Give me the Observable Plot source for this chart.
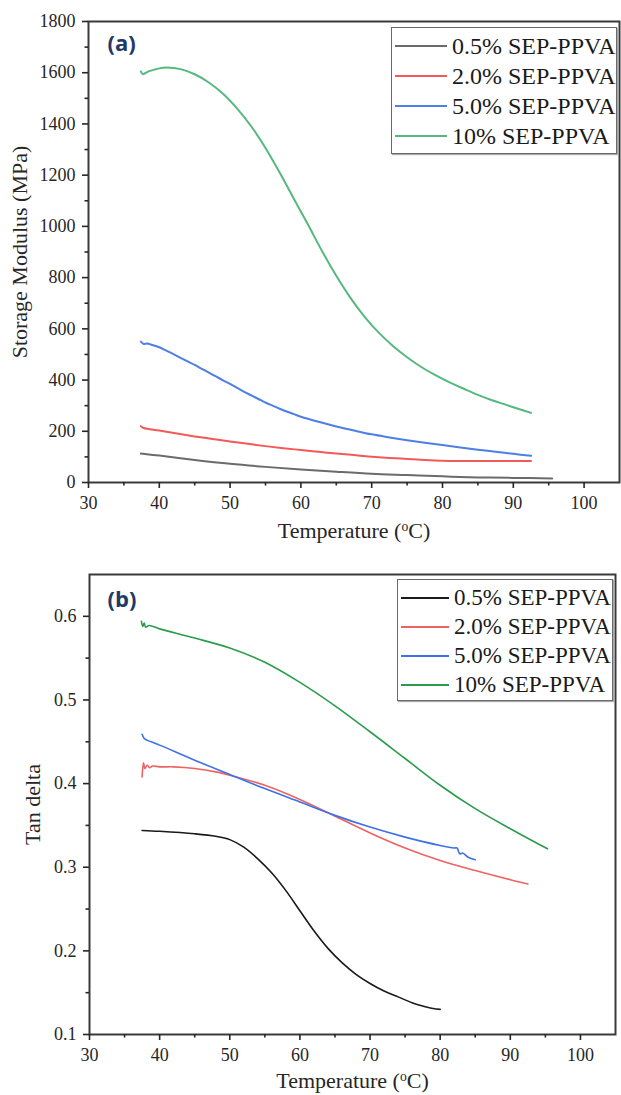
<!DOCTYPE html>
<html><head><meta charset="utf-8">
<script src="https://cdn.jsdelivr.net/npm/d3@7"></script>
<script src="https://cdn.jsdelivr.net/npm/@observablehq/plot@0.6"></script>
<style>
body{margin:0;background:#fff;width:621px;height:1095px;overflow:hidden;}
.panel{position:relative;width:621px;}
.panel svg g[aria-label$="tick label"] text{font-family:"Liberation Serif",serif !important;font-size:18px !important;}
.panel svg g[aria-label$="axis label"] text{font-family:"Liberation Serif",serif !important;font-size:22px !important;}
.legend{position:absolute;border:1.5px solid #6a6a6a;background:#fff;box-sizing:border-box;font-family:"Liberation Serif",serif;color:#1a1a1a;box-shadow:1px 1px 1px #aaa;}
.row{position:absolute;left:0;right:0;height:28px;}
.row .sw{position:absolute;}
.row .lb{position:absolute;white-space:nowrap;line-height:28px;}
</style>
</head><body>
<div id="pa" class="panel"></div>
<div id="pb" class="panel"></div>
<script>
// ---------- data ----------
const seriesNames = ["0.5% SEP-PPVA", "2.0% SEP-PPVA", "5.0% SEP-PPVA", "10% SEP-PPVA"];
const tempTicks = [30, 40, 50, 60, 70, 80, 90, 100];
const modulusTicks = [0, 200, 400, 600, 800, 1000, 1200, 1400, 1600, 1800];
const tanTicks = [0.1, 0.2, 0.3, 0.4, 0.5, 0.6];

// (a) storage modulus (MPa)
const a05T = [37.4, 40, 45, 50, 55, 60, 65, 70, 75, 80, 85, 90, 95.5];
const a05V = [113, 105, 88, 73, 61, 51, 42, 34, 29, 24, 20, 18, 16];
const a20T = [37.4, 37.8, 40, 42.5, 45, 47.5, 50, 52.5, 55, 57.5, 60, 62.5, 65, 67.5, 70, 72.5, 75, 77.5, 80, 82.5, 85, 90, 92.5];
const a20V = [220, 213, 203, 191, 180, 170, 160, 151, 142, 134, 127, 120, 113, 107, 101, 96, 92, 88, 85, 84, 84, 84, 84];
const a50T = [37.4, 37.8, 38.3, 39, 40, 41, 42, 43, 44, 45, 46, 47, 48, 49, 50, 51, 52, 53, 54, 55, 56, 57, 58, 59, 60, 62.5, 65, 67.5, 70, 72.5, 75, 77.5, 80, 82.5, 85, 87.5, 90, 92.5];
const a50V = [550, 541, 543, 537, 528, 515, 501, 487, 473, 459, 444, 429, 414, 399, 385, 369, 354, 340, 326, 312, 300, 288, 277, 267, 257, 237, 219, 203, 188, 176, 165, 155, 146, 137, 128, 120, 112, 104];
const a10T = [37.4, 37.7, 38.0, 38.6, 40, 41, 43, 45, 47, 49, 51, 53, 55, 57, 59, 61, 63, 65, 67, 69, 71, 73, 75, 77, 79, 81, 83, 85, 87, 89, 91, 92.5];
const a10V = [1605, 1594, 1598, 1606, 1617, 1620, 1614, 1594, 1562, 1518, 1460, 1390, 1306, 1210, 1108, 1007, 903, 807, 721, 647, 585, 533, 489, 451, 419, 391, 366, 342, 321, 303, 285, 272];

// (b) tan delta
const b05T = [37.5, 40, 45, 48, 50, 52, 54, 56, 58, 60, 62, 64, 66, 68, 70, 72, 74, 76, 78, 79, 80];
const b05V = [0.344, 0.343, 0.340, 0.337, 0.333, 0.324, 0.310, 0.293, 0.272, 0.248, 0.224, 0.203, 0.186, 0.172, 0.161, 0.152, 0.145, 0.138, 0.133, 0.131, 0.130];
const b20T = [37.5, 37.7, 37.9, 38.2, 38.6, 39, 40, 42, 45, 48, 50, 55, 60, 65, 70, 75, 80, 85, 90, 92.5];
const b20V = [0.408, 0.425, 0.418, 0.422, 0.419, 0.421, 0.420, 0.420, 0.418, 0.414, 0.410, 0.398, 0.381, 0.361, 0.341, 0.323, 0.308, 0.296, 0.285, 0.280];
const b50T = [37.5, 37.8, 38.2, 40, 45, 50, 55, 60, 65, 70, 75, 80, 82, 82.4, 82.8, 83.2, 84, 85];
const b50V = [0.459, 0.454, 0.452, 0.446, 0.428, 0.411, 0.394, 0.378, 0.362, 0.348, 0.336, 0.326, 0.323, 0.323, 0.316, 0.317, 0.312, 0.309];
const b10T = [37.4, 37.6, 37.8, 38.0, 38.5, 40, 45, 50, 55, 60, 65, 70, 75, 80, 85, 90, 95.3];
const b10V = [0.594, 0.588, 0.592, 0.587, 0.589, 0.585, 0.574, 0.562, 0.545, 0.521, 0.493, 0.462, 0.430, 0.398, 0.370, 0.346, 0.322];

// ---------- styles ----------
const colorsA = ["#6b6b6b", "#f25a5a", "#4d7fe6", "#55b97f"];
const colorsB = ["#1a1a1a", "#f06262", "#3c72e6", "#2b9c4e"];
const serif = "'Liberation Serif', 'Times New Roman', serif";

function pts(T, V) { return T.map((t, i) => ({t, v: V[i]})); }

function superscriptTemp(svg) {
  svg.querySelectorAll('g[aria-label="x-axis label"] text').forEach(t => {
    const s = d3.select(t);
    s.text(null);
    s.append("tspan").text("Temperature (");
    s.append("tspan").attr("baseline-shift", "super").attr("font-size", "62%").text("o");
    s.append("tspan").text("C)");
  });
}

function legend(container, cfg, colors) {
  const box = document.createElement("div");
  box.className = "legend";
  Object.assign(box.style, {left: cfg.left + "px", top: cfg.top + "px", width: cfg.width + "px", height: cfg.height + "px", fontSize: cfg.fontSize + "px"});
  seriesNames.forEach((name, i) => {
    const row = document.createElement("div");
    row.className = "row";
    row.style.top = (cfg.firstRow + i * cfg.rowStep - 14) + "px";
    const sw = document.createElement("div");
    sw.className = "sw";
    Object.assign(sw.style, {left: cfg.swLeft + "px", width: cfg.swWidth + "px", top: (14 - cfg.swStroke / 2) + "px", height: cfg.swStroke + "px", background: colors[i]});
    const lb = document.createElement("div");
    lb.className = "lb";
    lb.style.left = cfg.textLeft + "px";
    lb.textContent = name;
    row.appendChild(sw); row.appendChild(lb);
    box.appendChild(row);
  });
  container.appendChild(box);
}

function panel(opts) {
  const series = opts.series;
  const marks = [];
  series.forEach((s, i) => {
    marks.push(Plot.line(pts(s[0], s[1]), {x: "t", y: "v", stroke: opts.colors[i], strokeWidth: opts.lineWidth, curve: "catmull-rom"}));
  });
  marks.push(Plot.frame({stroke: "#3a3a3a", strokeWidth: 2}));
  marks.push(Plot.axisX({ticks: tempTicks, tickSize: 6, tickPadding: 8, strokeWidth: 1.6, fontSize: 18, fontFamily: serif, label: "Temperature (oC)", labelAnchor: "center", labelArrow: "none", labelOffset: opts.xLabelOffset}));
  marks.push(Plot.axisX({ticks: d3.range(35, 105, 10), tickSize: 3.5, strokeWidth: 1.6, text: null, label: null}));
  marks.push(Plot.axisY({ticks: opts.yTicks, tickSize: 6, tickPadding: 7, strokeWidth: 1.6, fontSize: 18, fontFamily: serif, tickFormat: opts.yFormat, label: opts.yLabel, labelAnchor: "center", labelArrow: "none", labelOffset: opts.yLabelOffset}));
  marks.push(Plot.axisY({ticks: opts.yMinor, tickSize: 3.5, strokeWidth: 1.6, text: null, label: null}));
  marks.push(Plot.text([opts.tag], {frameAnchor: "top-left", text: d => d, dx: opts.tagDx, dy: opts.tagDy, textAnchor: "start", lineAnchor: "middle", fill: "#1f3a66", fontSize: 22, fontWeight: "bold", fontFamily: "'Open Sans', 'DejaVu Sans', sans-serif"}));
  const svg = Plot.plot({
    width: 621, height: opts.height,
    marginTop: opts.mt, marginBottom: opts.mb, marginLeft: opts.ml, marginRight: opts.mr,
    style: {fontFamily: serif, fontSize: "18px", color: "#262626", background: "#fff"},
    x: {domain: [30, 105]},
    y: {domain: opts.yDomain},
    marks
  });
  superscriptTemp(svg);
  return svg;
}

const pa = document.getElementById("pa");
pa.appendChild(panel({
  height: 545, mt: 21, mb: 63, ml: 88, mr: 2,
  yDomain: [0, 1800], yTicks: modulusTicks, yMinor: d3.range(100, 1800, 200),
  yFormat: d3.format("d"), yLabel: "Storage Modulus (MPa)", yLabelOffset: 77, xLabelOffset: 55,
  colors: colorsA, lineWidth: 2,
  series: [[a05T, a05V], [a20T, a20V], [a50T, a50V], [a10T, a10V]],
  tag: "(a)", tagDx: 19, tagDy: 22
}));
legend(pa, {left: 391, top: 27, width: 226, height: 127, fontSize: 24, firstRow: 18, rowStep: 30, swLeft: 3, swWidth: 52, swStroke: 2, textLeft: 60}, colorsA);

const pb = document.getElementById("pb");
pb.appendChild(panel({
  height: 550, mt: 29, mb: 61, ml: 89, mr: 6,
  yDomain: [0.1, 0.65], yTicks: tanTicks, yMinor: [0.15, 0.25, 0.35, 0.45, 0.55],
  yFormat: d3.format(".1f"), yLabel: "Tan delta", yLabelOffset: 65, xLabelOffset: 53,
  colors: colorsB, lineWidth: 1.6,
  series: [[b05T, b05V], [b20T, b20V], [b50T, b50V], [b10T, b10V]],
  tag: "(b)", tagDx: 18, tagDy: 25
}));
legend(pb, {left: 397, top: 34, width: 216, height: 122, fontSize: 23, firstRow: 18, rowStep: 29, swLeft: 3, swWidth: 48, swStroke: 2, textLeft: 56}, colorsB);
</script>
</body></html>
